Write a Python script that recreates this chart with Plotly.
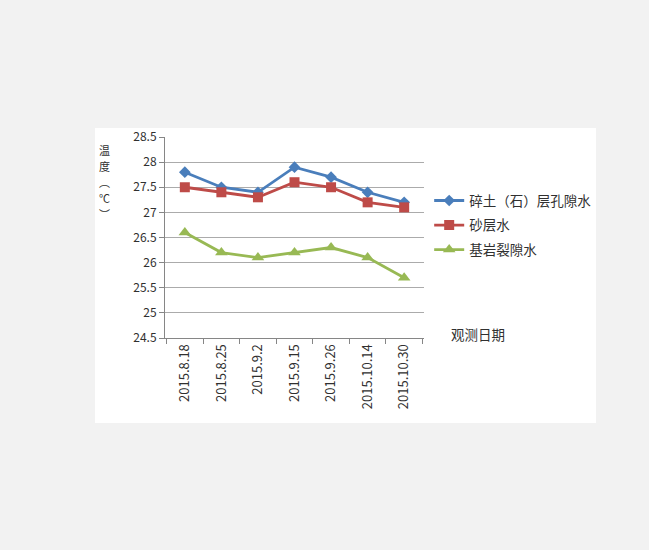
import plotly.graph_objects as go

# Observation dates and groundwater temperature (°C) for each aquifer type
dates = ["2015.8.18", "2015.8.25", "2015.9.2", "2015.9.15", "2015.9.26", "2015.10.14", "2015.10.30"]
pore_water = [27.8, 27.5, 27.4, 27.9, 27.7, 27.4, 27.2]
sand_water = [27.5, 27.4, 27.3, 27.6, 27.5, 27.2, 27.1]
fissure_water = [26.6, 26.2, 26.1, 26.2, 26.3, 26.1, 25.7]

series_names = ["碎土（石）层孔隙水", "砂层水", "基岩裂隙水"]
y_title_chars = ["温", "度", "︵", "℃", "︶"]
y_ticks = [24.5, 25, 25.5, 26, 26.5, 27, 27.5, 28, 28.5]

FONT = "Noto Sans CJK SC, Liberation Sans, sans-serif"
TEXT = "#303030"

fig = go.Figure()
fig.add_trace(go.Scatter(
    x=dates, y=pore_water, name=series_names[0], mode="lines+markers",
    legendgroup="a",
    line=dict(color="#4A7EBB", width=2.8),
    marker=dict(symbol="diamond", size=9, color="#4A7EBB"),
))
fig.add_trace(go.Scatter(
    x=dates, y=sand_water, name=series_names[1], mode="lines+markers",
    legendgroup="b",
    line=dict(color="#BE4B48", width=2.8),
    marker=dict(symbol="square", size=10, color="#BE4B48"),
))
fig.add_trace(go.Scatter(
    x=dates, y=fissure_water, name=series_names[2], mode="lines+markers",
    legendgroup="c",
    line=dict(color="#98B954", width=2.8),
    marker=dict(symbol="triangle-up", size=11, color="#98B954"),
))

# white chart panel behind the plot area
fig.add_shape(type="rect", xref="paper", yref="paper",
              x0=-0.270, x1=1.664, y0=-0.423, y1=1.045,
              fillcolor="white", line=dict(width=0), layer="below")

# vertical axis title, one upright character per step
for i, ch in enumerate(y_title_chars):
    fig.add_annotation(text=ch, xref="paper", yref="paper",
                       x=-0.235, y=0.935 - i * 0.079,
                       xanchor="center", yanchor="middle",
                       showarrow=False, borderpad=0,
                       font=dict(family=FONT, size=11, color=TEXT))
# horizontal axis title
fig.add_annotation(text="观测日期", xref="paper", yref="paper",
                   x=1.21, y=0.02, xanchor="center", yanchor="middle",
                   showarrow=False, font=dict(family=FONT, size=13.5, color=TEXT))

fig.update_layout(
    width=649, height=550,
    margin=dict(l=165, r=225, t=137, b=212),
    paper_bgcolor="#f2f2f2", plot_bgcolor="white",
    font=dict(family=FONT, size=11, color=TEXT),
    showlegend=True,
    legend=dict(x=1.02, y=0.76, xanchor="left", yanchor="top",
                bgcolor="rgba(0,0,0,0)", tracegroupgap=4, itemwidth=30,
                font=dict(family=FONT, size=13.5, color=TEXT)),
    xaxis=dict(type="category", tickangle=-90, tickson="boundaries",
               ticks="outside", ticklen=5, tickcolor="#868686",
               showline=True, linecolor="#868686", linewidth=1,
               showgrid=False, tickfont=dict(size=13)),
    yaxis=dict(range=[24.5, 28.5], tickvals=y_ticks,
               ticktext=[f"{v:g}" for v in y_ticks],
               ticks="outside", ticklen=5, tickcolor="#868686",
               showline=True, linecolor="#868686", linewidth=1,
               showgrid=True, gridcolor="#ababab", gridwidth=1.3,
               zeroline=False, tickfont=dict(size=12)),
)

fig.write_html("out.html")
